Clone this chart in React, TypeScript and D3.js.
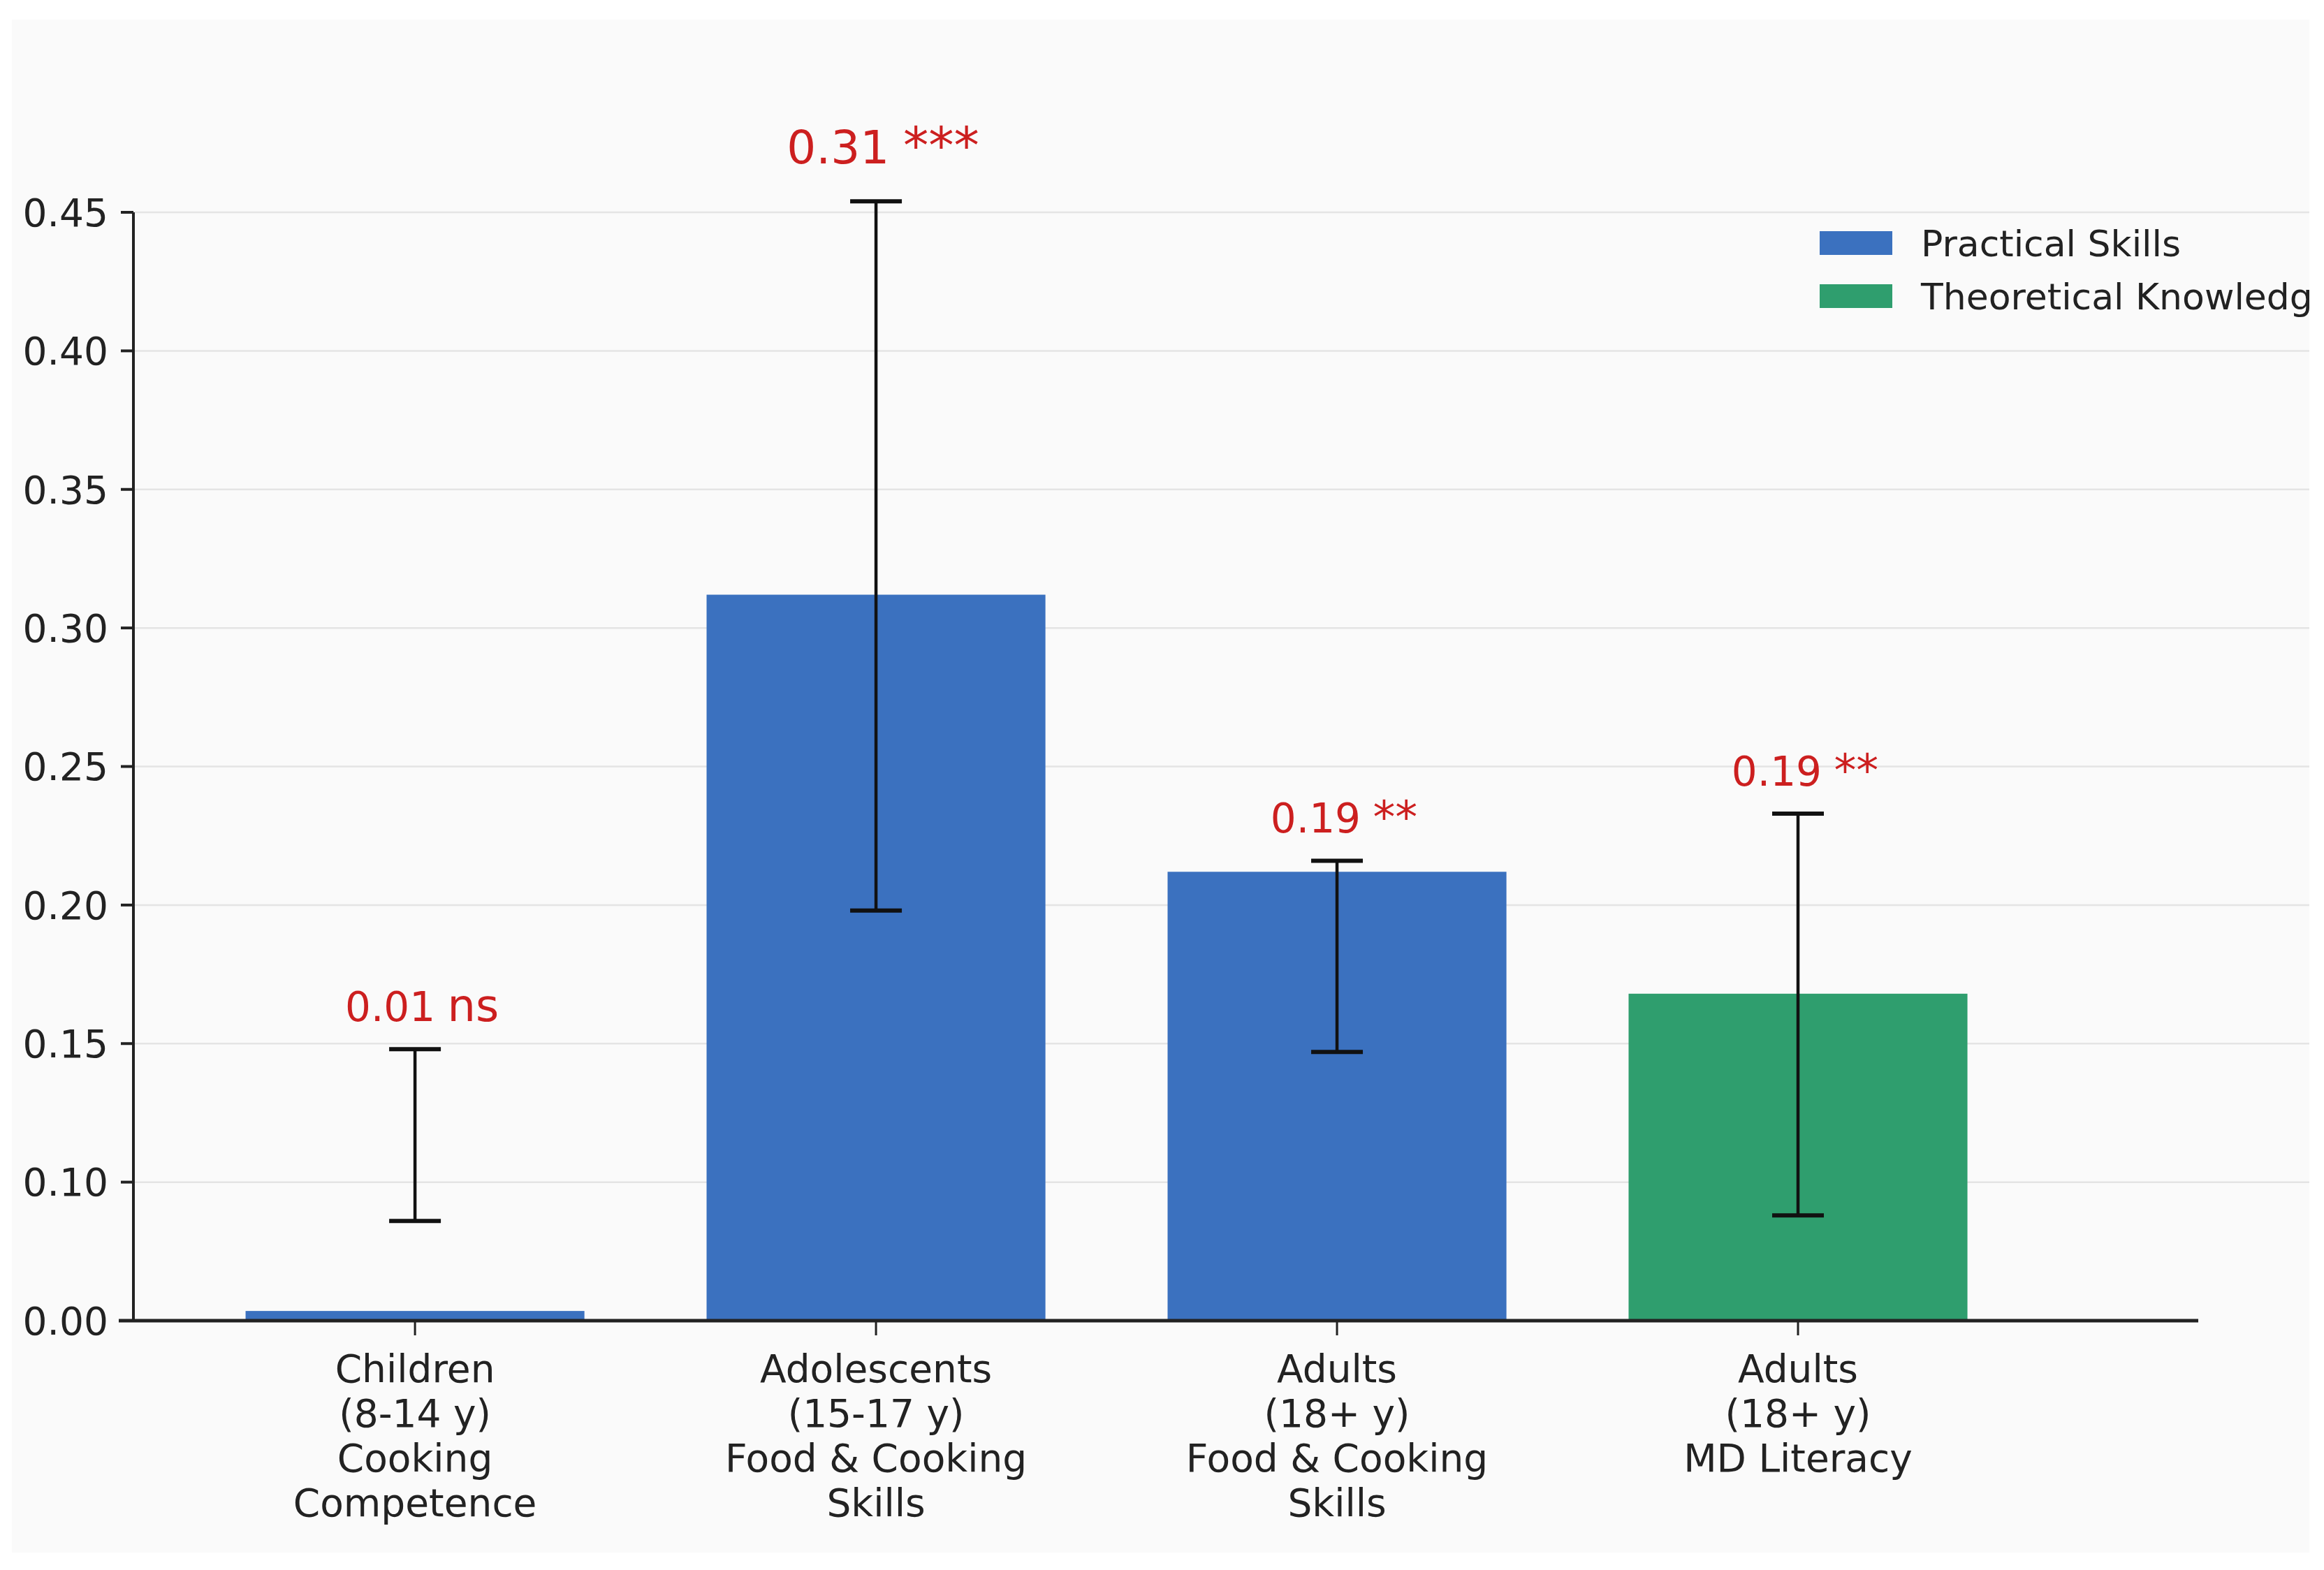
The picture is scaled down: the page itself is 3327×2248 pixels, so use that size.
import * as d3 from "d3";

// values
const categories = [
  "Children (8-14 y)",
  "Adolescents (15-17 y)",
  "Adults (18+ y) skills",
  "Adults (18+ y) literacy",
];
const categoryLines = [
  ["Children", "(8-14 y)", "Cooking", "Competence"],
  ["Adolescents", "(15-17 y)", "Food & Cooking", "Skills"],
  ["Adults", "(18+ y)", "Food & Cooking", "Skills"],
  ["Adults", "(18+ y)", "MD Literacy"],
];
const barValues = [0.007, 0.312, 0.212, 0.168];
const errLow = [0.072, 0.198, 0.147, 0.076];
const errHigh = [0.148, 0.454, 0.216, 0.233];
const barGroups = ["Practical Skills", "Practical Skills", "Practical Skills", "Theoretical Knowledge"];
const effectLabels = ["0.01", "0.31", "0.19", "0.19"];
const sigLabels = ["ns", "***", "**", "**"];
const yTicks = [0, 0.1, 0.15, 0.2, 0.25, 0.3, 0.35, 0.4, 0.45];
const legendItems = ["Practical Skills", "Theoretical Knowledge"];

const W = 3327;
const H = 2248;
const panel = { x: 17, y: 28, w: 3289, h: 2195 };
const plot = { l: 191, r: 3147, t: 304, b: 1891 };
const FONT = "DejaVu Sans, Verdana, sans-serif";

const color = d3
  .scaleOrdinal<string, string>()
  .domain(legendItems)
  .range(["#3b71bf", "#2f9e6e"]);

export default function App() {
  const step = (plot.b - plot.t) / 8;
  // the picture's axis jumps straight from 0.10 to 0.00 in one tick step
  const y = d3
    .scaleLinear()
    .domain([0, 0.1, 0.45])
    .range([plot.b, plot.b - step, plot.t]);

  const x = d3
    .scaleBand<string>()
    .domain(categories)
    .range([plot.l, plot.r])
    .paddingInner(0.265)
    .paddingOuter(0.372)
    .align(0.327);

  const bw = x.bandwidth();
  const maxIdx = d3.maxIndex(barValues);

  return (
    <svg
      width={W}
      height={H}
      viewBox={`0 0 ${W} ${H}`}
      style={{ position: "absolute", left: 0, top: 0, background: "#fff" }}
      fontFamily={FONT}
    >
      <defs>
        <clipPath id="panel-clip">
          <rect x={panel.x} y={panel.y} width={panel.w} height={panel.h} />
        </clipPath>
      </defs>
      <rect x={panel.x} y={panel.y} width={panel.w} height={panel.h} fill="#fafafa" />

      <g clipPath="url(#panel-clip)">
        {/* grid */}
        {yTicks.slice(1).map((t) => (
          <line
            key={`g${t}`}
            x1={plot.l}
            x2={panel.x + panel.w}
            y1={y(t)}
            y2={y(t)}
            stroke="#e4e4e4"
            strokeWidth={2.5}
          />
        ))}

        {/* bars */}
        {categories.map((c, i) => (
          <rect
            key={c}
            x={x(c)}
            y={y(barValues[i])}
            width={bw}
            height={y(0) - y(barValues[i])}
            fill={color(barGroups[i])}
          />
        ))}

        {/* error bars */}
        {categories.map((c, i) => {
          const cx = (x(c) ?? 0) + bw / 2;
          return (
            <g key={`e${c}`} stroke="#111" strokeWidth={4.5}>
              <line x1={cx} x2={cx} y1={y(errLow[i])} y2={y(errHigh[i])} />
              <line x1={cx - 37} x2={cx + 37} y1={y(errLow[i])} y2={y(errLow[i])} strokeWidth={6} />
              <line x1={cx - 37} x2={cx + 37} y1={y(errHigh[i])} y2={y(errHigh[i])} strokeWidth={6} />
            </g>
          );
        })}

        {/* effect annotations */}
        {categories.map((c, i) => {
          const cx = (x(c) ?? 0) + bw / 2;
          const fs = i === maxIdx ? 66 : 58;
          return (
            <text
              key={`a${c}`}
              x={cx + 10}
              y={y(errHigh[i]) - (i === maxIdx ? 54 : 40)}
              textAnchor="middle"
              fontSize={fs}
              fill="#cc1f1f"
            >
              <tspan>{effectLabels[i]}</tspan>
              <tspan dx={fs * 0.3} fontSize={fs * 1.1}>
                {sigLabels[i]}
              </tspan>
            </text>
          );
        })}

        {/* axes */}
        <line x1={plot.l} x2={plot.l} y1={plot.t} y2={plot.b} stroke="#222" strokeWidth={4} />
        <line x1={170} x2={plot.r} y1={plot.b} y2={plot.b} stroke="#222" strokeWidth={5} />
        {yTicks.map((t) => (
          <g key={`t${t}`}>
            <line x1={plot.l - 18} x2={plot.l} y1={y(t)} y2={y(t)} stroke="#222" strokeWidth={4} />
            <text
              x={plot.l - 36}
              y={y(t)}
              dy="0.36em"
              textAnchor="end"
              fontSize={55}
              fill="#222"
            >
              {t.toFixed(2)}
            </text>
          </g>
        ))}
        {categories.map((c, i) => {
          const cx = (x(c) ?? 0) + bw / 2;
          return (
            <g key={`x${c}`}>
              <line x1={cx} x2={cx} y1={plot.b} y2={plot.b + 21} stroke="#222" strokeWidth={3} />
              <text x={cx} y={1979} textAnchor="middle" fontSize={55} fill="#222">
                {categoryLines[i].map((ln, k) => (
                  <tspan key={k} x={cx} dy={k === 0 ? 0 : 64}>
                    {ln}
                  </tspan>
                ))}
              </text>
            </g>
          );
        })}

        {/* legend */}
        {legendItems.map((name, i) => (
          <g key={name} transform={`translate(2605,${331 + i * 76})`}>
            <rect width={104} height={34} fill={color(name)} />
            <text x={145} y={17} dy="0.36em" fontSize={52} fill="#222">
              {name}
            </text>
          </g>
        ))}
      </g>
    </svg>
  );
}
